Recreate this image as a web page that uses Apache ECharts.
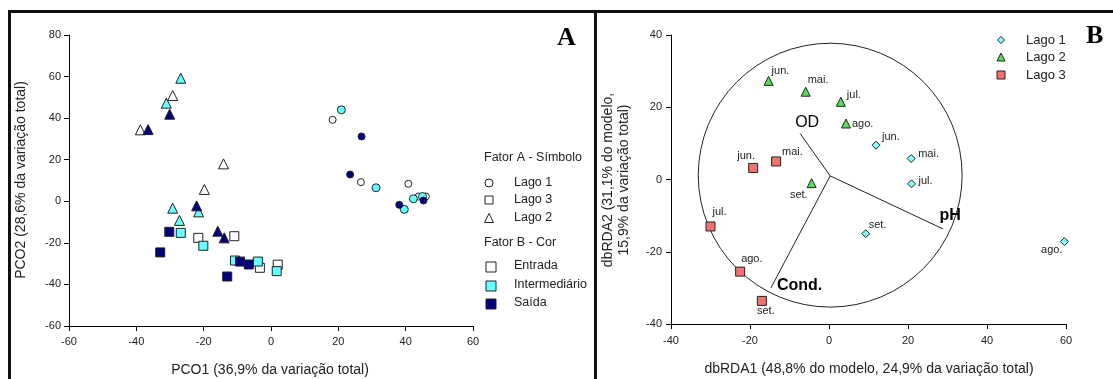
<!DOCTYPE html>
<html><head><meta charset="utf-8">
<script src="https://cdn.jsdelivr.net/npm/echarts@6/dist/echarts.min.js"></script>
<style>html,body{margin:0;padding:0;background:#fff}#c{width:1113px;height:379px}</style>
</head><body><div id="c"></div>
<script>
// ---------- Panel A (PCO) data ----------
const aTicksX = [-60, 60, 20];
const aTicksY = [-60, 80, 20];
// Lago 1 (circles)
const lago1Entrada = [[18.3,39.2],[26.7,9.2],[40.8,8.4],[43.8,2.3],[46.0,2.3]];
const lago1Inter   = [[20.9,44.0],[31.2,6.5],[42.3,1.2],[45.0,2.3],[39.6,-3.9]];
const lago1Saida   = [[26.9,31.2],[23.5,12.9],[45.3,0.4],[38.1,-1.7]];
// Lago 3 (squares)
const lago3Entrada = [[-21.6,-17.6],[-10.9,-16.8],[-3.3,-32.0],[2.0,-30.5]];
const lago3Inter   = [[-26.8,-15.2],[-20.1,-21.4],[-10.7,-28.5],[-3.9,-29.0],[1.7,-33.6]];
const lago3Saida   = [[-30.2,-14.7],[-32.9,-24.6],[-9.2,-29.0],[-6.6,-30.4],[-13.0,-36.2]];
// Lago 2 (triangles)
const lago2Entrada = [[-38.8,34.4],[-29.2,50.9],[-14.1,18.0],[-19.8,5.7]];
const lago2Inter   = [[-26.8,59.2],[-31.1,47.2],[-29.2,-3.3],[-27.2,-9.2],[-21.5,-5.1]];
const lago2Saida   = [[-36.5,34.5],[-30.1,41.9],[-22.1,-2.2],[-15.8,-14.4],[-13.9,-17.6]];

// ---------- Panel B (dbRDA) data ----------
const bTicksX = [-40, 60, 20];
const bTicksY = [-40, 40, 20];
const bLago1 = [[11.9,9.5,'jun.'],[20.8,5.8,'mai.'],[20.9,-1.2,'jul.'],[9.3,-15.0,'set.'],[59.6,-17.2,'ago.']];
const bLago2 = [[-15.3,27.3,'jun.'],[-5.9,24.3,'mai.'],[3.0,21.5,'jul.'],[4.3,15.5,'ago.'],[-4.4,-1.0,'set.']];
const bLago3 = [[-19.2,3.2,'jun.'],[-13.4,5.0,'mai.'],[-30.0,-13.0,'jul.'],[-22.5,-25.5,'ago.'],[-17.0,-33.6,'set.']];
const vectorOrigin = [0.3, 1.0];
const vectorNames = ['OD', 'pH', 'Cond.'];
const vectorEnds = [[-7.3,12.7],[28.9,-13.7],[-14.7,-30.0]];
const circleCenter = [0.3, 1.2];
const circleRadiusX = 33.4;

// ---------- label placement (style only) ----------
const labelPlace = {
  'L1jun.':['left',6,-8], 'L1mai.':['left',7,-5], 'L1jul.':['left',7,-3], 'L1set.':['left',3,-9], 'L1ago.':['right',-2,8],
  'L2jun.':['left',3,-10], 'L2mai.':['left',2,-12], 'L2jul.':['left',6,-7], 'L2ago.':['left',6,0], 'L2set.':['right',-4,12],
  'L3jun.':['center',-7,-12], 'L3mai.':['left',6,-9], 'L3jul.':['left',2,-14], 'L3ago.':['left',1,-13], 'L3set.':['center',4,10]
};
const vecLabelPlace = {'OD':['center',7,-11,'normal'], 'pH':['center',7,-13,'bold'], 'Cond.':['left',6,-2,'bold']};

const FONT = 'Liberation Sans, Arial, sans-serif';
const WHITE = '#ffffff', CYAN = '#66ffff', NAVY = '#000080';
const EDGE = '#222222';

function axisCommon(gi, t, margin) {
  return {
    gridIndex: gi, min: t[0], max: t[1], interval: t[2],
    axisLine: {onZero: false, lineStyle: {color: '#000', width: 1}},
    axisTick: {inside: false, length: 5, lineStyle: {color: '#000'}},
    axisLabel: {fontFamily: FONT, fontSize: 11, color: '#222', margin: margin},
    splitLine: {show: false}
  };
}

function aSeries(data, symbol, size, color) {
  return {
    type: 'scatter', xAxisIndex: 0, yAxisIndex: 0, data: data,
    symbol: symbol, symbolSize: size,
    itemStyle: {color: color, borderColor: EDGE, borderWidth: 1, opacity: 1},
    emphasis: {disabled: true}, z: 3
  };
}

function bSeries(pts, key, symbol, size, color) {
  return {
    type: 'scatter', xAxisIndex: 1, yAxisIndex: 1,
    symbol: symbol, symbolSize: size,
    itemStyle: {color: color, borderColor: EDGE, borderWidth: 1, opacity: 1},
    emphasis: {disabled: true}, z: 4,
    data: pts.map(p => {
      const lp = labelPlace[key + p[2]];
      return {
        value: [p[0], p[1]], name: p[2],
        label: {show: true, formatter: p[2], position: ['50%','50%'], align: lp[0], verticalAlign: 'middle',
                offset: [lp[1], lp[2]], fontFamily: FONT, fontSize: 11, color: '#222'}
      };
    })
  };
}

const chart = echarts.init(document.getElementById('c'), null, {renderer: 'canvas'});

const option = {
  animation: false,
  backgroundColor: '#fff',
  grid: [
    {left: 69, top: 35, width: 404, height: 291},
    {left: 671, top: 35, width: 395, height: 289}
  ],
  xAxis: [axisCommon(0, aTicksX, 10), axisCommon(1, bTicksX, 11)],
  yAxis: [axisCommon(0, aTicksY, 8), axisCommon(1, bTicksY, 9)],
  series: [
    aSeries(lago1Entrada, 'circle', 7, WHITE),
    aSeries(lago1Inter, 'circle', 8, CYAN),
    aSeries(lago1Saida, 'circle', 7, NAVY),
    aSeries(lago3Entrada, 'rect', 9, WHITE),
    aSeries(lago3Inter, 'rect', 9, CYAN),
    aSeries(lago3Saida, 'rect', 9, NAVY),
    aSeries(lago2Entrada, 'triangle', 10, WHITE),
    aSeries(lago2Inter, 'triangle', 10, CYAN),
    aSeries(lago2Saida, 'triangle', 10, NAVY),
    {
      type: 'lines', coordinateSystem: 'cartesian2d', xAxisIndex: 1, yAxisIndex: 1, z: 2,
      lineStyle: {color: '#222', width: 1, opacity: 1},
      data: vectorEnds.map(e => ({coords: [vectorOrigin, e]}))
    },
    bSeries(bLago1, 'L1', 'diamond', 8, '#88ffff'),
    bSeries(bLago2, 'L2', 'triangle', 9, '#55dd55'),
    bSeries(bLago3, 'L3', 'rect', 9, '#f27272')
  ]
};
chart.setOption(option);

// graphics: frame, panel letters, axis titles, legends, circle, vector labels
const toPx = v => chart.convertToPixel({xAxisIndex: 1, yAxisIndex: 1}, v);
const c0 = toPx(circleCenter);
const cR = toPx([circleCenter[0] + circleRadiusX, circleCenter[1]]);
const rPix = cR[0] - c0[0];

function txt(x, y, s, size, opts) {
  return Object.assign({type: 'text', x: x, y: y, z: 10, style: Object.assign({text: s, fontFamily: FONT, fontSize: size, fill: '#111',
    textAlign: 'left', textVerticalAlign: 'middle'}, (opts && opts.style) || {})}, (opts && opts.el) || {});
}
function sym(shape, x, y, s, fill) {
  if (shape === 'circle') return {type: 'circle', shape: {cx: x, cy: y, r: s / 2}, style: {fill: fill, stroke: EDGE, lineWidth: 1}};
  if (shape === 'rect') return {type: 'rect', shape: {x: x - s / 2, y: y - s / 2, width: s, height: s}, style: {fill: fill, stroke: EDGE, lineWidth: 1}};
  if (shape === 'triangle') return {type: 'polygon', shape: {points: [[x, y - s / 2], [x + s / 2, y + s / 2], [x - s / 2, y + s / 2]]}, style: {fill: fill, stroke: EDGE, lineWidth: 1}};
  if (shape === 'diamond') return {type: 'polygon', shape: {points: [[x, y - s / 2], [x + s / 2, y], [x, y + s / 2], [x - s / 2, y]]}, style: {fill: fill, stroke: EDGE, lineWidth: 1}};
}

const vecLabels = vectorEnds.map((e, i) => {
  const p = toPx(e);
  const lp = vecLabelPlace[vectorNames[i]];
  return txt(p[0] + lp[1], p[1] + lp[2], vectorNames[i], 16, {style: {textAlign: lp[0], fontWeight: lp[3], fill: '#000'}});
});

const graphics = [
  {type: 'circle', shape: {cx: c0[0], cy: c0[1], r: rPix}, style: {fill: 'none', stroke: '#222', lineWidth: 1}, z: 1},
  // frame
  {type: 'rect', shape: {x: 8, y: 10, width: 1105, height: 3}, style: {fill: '#111'}},
  {type: 'rect', shape: {x: 8, y: 10, width: 3, height: 369}, style: {fill: '#111'}},
  {type: 'rect', shape: {x: 594, y: 10, width: 3, height: 369}, style: {fill: '#111'}},
  // panel letters
  txt(557, 38, 'A', 26, {style: {fontFamily: 'Liberation Serif, Times New Roman, serif', fontWeight: 'bold', fill: '#000'}}),
  txt(1086, 36, 'B', 26, {style: {fontFamily: 'Liberation Serif, Times New Roman, serif', fontWeight: 'bold', fill: '#000'}}),
  // axis titles
  txt(270, 370, 'PCO1 (36,9% da variação total)', 14, {style: {textAlign: 'center', fill: '#222'}}),
  txt(21, 180, 'PCO2 (28,6% da variação total)', 14, {style: {textAlign: 'center', fill: '#222'}, el: {rotation: Math.PI / 2}}),
  txt(869, 369, 'dbRDA1 (48,8% do modelo, 24,9% da variação total)', 14, {style: {textAlign: 'center', fill: '#222'}}),
  txt(616, 180, 'dbRDA2 (31,1% do modelo,\n15,9% da variação total)', 14, {style: {textAlign: 'center', fill: '#222', lineHeight: 16}, el: {rotation: Math.PI / 2}}),
  // legend A
  txt(484, 158, 'Fator A - Símbolo', 12.5, {style: {fill: '#222'}}),
  sym('circle', 489, 183, 8, WHITE), txt(514, 183, 'Lago 1', 12.5, {style: {fill: '#222'}}),
  sym('rect', 489, 200, 8, WHITE), txt(514, 200, 'Lago 3', 12.5, {style: {fill: '#222'}}),
  sym('triangle', 489, 218, 9, WHITE), txt(514, 218, 'Lago 2', 12.5, {style: {fill: '#222'}}),
  txt(484, 243, 'Fator B - Cor', 12.5, {style: {fill: '#222'}}),
  sym('rect', 491, 267, 10, WHITE), txt(514, 266, 'Entrada', 12.5, {style: {fill: '#222'}}),
  sym('rect', 491, 286, 10, CYAN), txt(514, 285, 'Intermediário', 12.5, {style: {fill: '#222'}}),
  sym('rect', 491, 304, 10, NAVY), txt(514, 303, 'Saída', 12.5, {style: {fill: '#222'}}),
  // legend B
  sym('diamond', 1001, 40, 7, '#88ffff'), txt(1026, 40, 'Lago 1', 13, {style: {fill: '#222'}}),
  sym('triangle', 1001, 57, 8, '#55dd55'), txt(1026, 57, 'Lago 2', 13, {style: {fill: '#222'}}),
  sym('rect', 1001, 75, 8, '#f27272'), txt(1026, 75, 'Lago 3', 13, {style: {fill: '#222'}})
].concat(vecLabels);
chart.setOption({graphic: graphics});
</script></body></html>
